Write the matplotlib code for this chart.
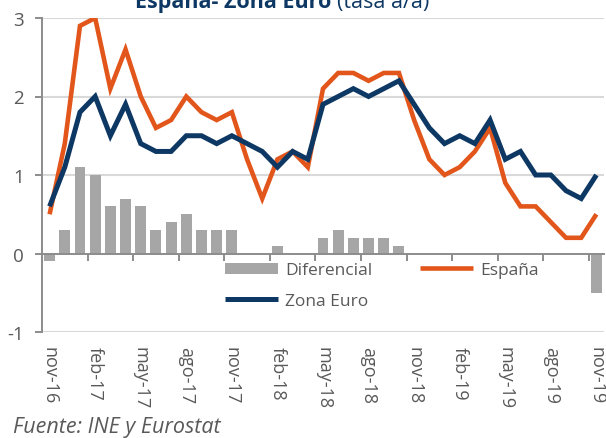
import numpy as np
import matplotlib
matplotlib.use("Agg")
import matplotlib.pyplot as plt
from matplotlib.ticker import FixedLocator, NullFormatter

months = ['nov-16', 'dic-16', 'ene-17', 'feb-17', 'mar-17', 'abr-17', 'may-17',
          'jun-17', 'jul-17', 'ago-17', 'sep-17', 'oct-17', 'nov-17', 'dic-17',
          'ene-18', 'feb-18', 'mar-18', 'abr-18', 'may-18', 'jun-18', 'jul-18',
          'ago-18', 'sep-18', 'oct-18', 'nov-18', 'dic-18', 'ene-19', 'feb-19',
          'mar-19', 'abr-19', 'may-19', 'jun-19', 'jul-19', 'ago-19', 'sep-19',
          'oct-19', 'nov-19']
espana = [0.5, 1.4, 2.9, 3.0, 2.1, 2.6, 2.0, 1.6, 1.7, 2.0, 1.8, 1.7, 1.8, 1.2,
          0.7, 1.2, 1.3, 1.1, 2.1, 2.3, 2.3, 2.2, 2.3, 2.3, 1.7, 1.2, 1.0, 1.1,
          1.3, 1.6, 0.9, 0.6, 0.6, 0.4, 0.2, 0.2, 0.5]
zona_euro = [0.6, 1.1, 1.8, 2.0, 1.5, 1.9, 1.4, 1.3, 1.3, 1.5, 1.5, 1.4, 1.5, 1.4,
             1.3, 1.1, 1.3, 1.2, 1.9, 2.0, 2.1, 2.0, 2.1, 2.2, 1.9, 1.6, 1.4, 1.5,
             1.4, 1.7, 1.2, 1.3, 1.0, 1.0, 0.8, 0.7, 1.0]
nan = np.nan
diferencial = [-0.1, 0.3, 1.1, 1.0, 0.6, 0.7, 0.6, 0.3, 0.4, 0.5, 0.3, 0.3, 0.3, nan,
               nan, 0.1, 0.0, nan, 0.2, 0.3, 0.2, 0.2, 0.2, 0.1, nan, nan, nan, nan,
               nan, nan, nan, nan, nan, nan, nan, nan, -0.5]
yticks = [-1, 0, 1, 2, 3]

FONT = 'Open Sans'
plt.rcParams['font.family'] = [FONT, 'DejaVu Sans']
GRAY_TXT = '#595959'
AXIS = '#8c8c8c'
GRID = '#d9d9d9'
ORANGE = '#e2561b'
BLUE = '#0e3864'
BAR = '#a6a6a6'

fig = plt.figure(figsize=(6.06, 4.39), dpi=100)
ax = fig.add_axes([42/606, 1 - 333/439, 562/606, 314/439])

x = np.arange(len(months))
bars = ax.bar(x, diferencial, width=0.72, color=BAR, label='Diferencial', zorder=2)
l_es, = ax.plot(x, espana, color=ORANGE, lw=3.3, label='España', zorder=3,
                solid_joinstyle='miter', solid_capstyle='butt')
l_eu, = ax.plot(x, zona_euro, color=BLUE, lw=3.6, label='Zona Euro', zorder=4,
                solid_joinstyle='miter', solid_capstyle='butt')

ax.set_xlim(-0.5, len(months) - 0.5)
ax.set_ylim(-1, 3)
ax.set_yticks(yticks)
ax.set_yticklabels([str(v) for v in yticks])
for v in yticks:
    if v != 0:
        ax.axhline(v, color=GRID, lw=1.5, zorder=1)

for s in ['top', 'right']:
    ax.spines[s].set_visible(False)
ax.spines['left'].set_color(AXIS)
ax.spines['left'].set_linewidth(1.4)
ax.spines['bottom'].set_position(('data', 0))
ax.spines['bottom'].set_color(AXIS)
ax.spines['bottom'].set_linewidth(1.4)
ax.spines['bottom'].set_zorder(2.5)

ax.tick_params(axis='y', direction='out', length=5, width=1.4, color=AXIS,
               labelcolor=GRAY_TXT, labelsize=13.5, pad=8)
ax.xaxis.set_major_locator(FixedLocator(np.arange(2.5, len(months) - 1, 3)))
ax.xaxis.set_major_formatter(NullFormatter())
ax.tick_params(axis='x', direction='out', length=5, width=1.4, color=AXIS)

sec = ax.secondary_xaxis(0)
sec.set_xticks(x[::3])
sec.set_xticklabels(months[::3], rotation=-90, va='top', ha='center')
sec.tick_params(length=0, pad=10, labelsize=13, labelcolor=GRAY_TXT)
sec.spines['bottom'].set_visible(False)

leg = ax.legend([bars, l_eu, l_es], ['Diferencial', 'Zona Euro', 'España'],
                ncol=2, frameon=False, loc='upper left',
                bbox_to_anchor=(0.325, 0.222), borderpad=0, borderaxespad=0,
                fontsize=12.5, handlelength=3.1, handleheight=0.6,
                handletextpad=0.4, columnspacing=2.7, labelspacing=0.85)
for t in leg.get_texts():
    t.set_color(GRAY_TXT)

# Title (partially cut at the top, as in the reference)
t1 = fig.text(135/606, 1 - 8/439, 'España- Zona Euro', fontsize=15.5,
              fontweight='bold', color=BLUE, ha='left', va='baseline')
fig.canvas.draw()
bb = t1.get_window_extent()
fig.text((bb.x1 + 6) / fig.bbox.width, 1 - 8/439, '(tasa a/a)', fontsize=15.5,
         color=BLUE, ha='left', va='baseline')

fig.text(13/606, 1 - 433/439, 'Fuente: INE y Eurostat', fontsize=15.5,
         style='italic', color=GRAY_TXT, ha='left', va='baseline')

fig.savefig('out.png', dpi=100)
